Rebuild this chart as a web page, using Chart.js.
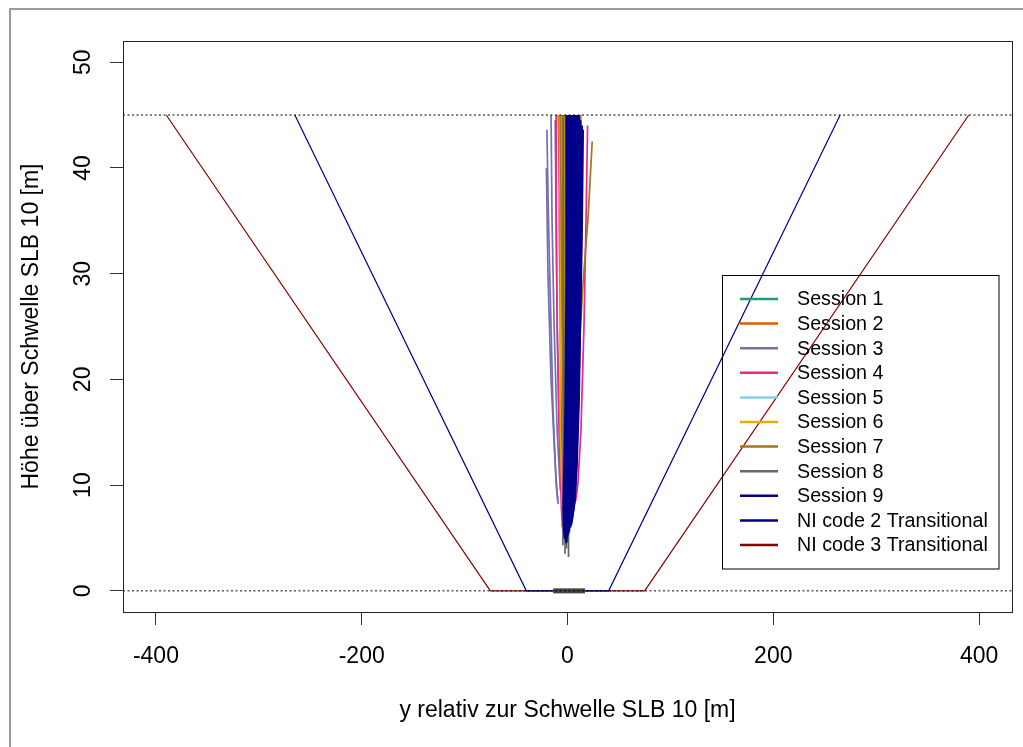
<!DOCTYPE html>
<html><head><meta charset="utf-8">
<script src="https://cdn.jsdelivr.net/npm/chart.js@4/dist/chart.umd.min.js"></script>
<style>html,body{margin:0;padding:0;background:#fff}canvas{display:block}</style>
</head><body>
<canvas id="c" width="1023" height="747"></canvas>
<script>
// ---------- DATA ----------
const xTicks = [-400, -200, 0, 200, 400];
const yTicks = [0, 10, 20, 30, 40, 50];
const xLimits = [-432, 432];
const yLimits = [-2, 52];
const refHeights = [0, 45];
const runway = [[-14, 0], [17, 0]];
const niCode2 = [[-265, 45], [-40, 0], [40, 0], [265, 45]];
const niCode3 = [[-390, 45], [-75, 0], [75, 0], [390, 45]];
const xTitle = 'y relativ zur Schwelle SLB 10 [m]';
const yTitle = 'Höhe über Schwelle SLB 10 [m]';
const sessionNames = ['Session 1','Session 2','Session 3','Session 4','Session 5','Session 6','Session 7','Session 8','Session 9'];
const niNames = ['NI code 2 Transitional', 'NI code 3 Transitional'];
const sessionColors = ['#1B9E77','#D95F02','#7570B3','#E7298A','#87CEEB','#E6AB02','#A6761D','#666666','#00008B'];
const niColors = ['#00008B', '#8B0000'];

const session1 = [
  [[-5,45],[-4,35],[-3,25],[-2,15],[-1,9]],
  [[-2,45],[-1,35],[0,25],[0,15],[0,8]]
];
const session2 = [
  [[-9,45],[-7,35],[-5,25],[-3,15],[-2,8]],
  [[-4,45],[-3,35],[-2,25],[-1,15],[-1,7]]
];
const session3 = [
  [[-20,43.6],[-18.5,35],[-16,25],[-14,17],[-11,10],[-9,8.2]],
  [[-20.5,40],[-19,30],[-16,20],[-12,12],[-9.5,8.5]],
  [[-16,45],[-15,35],[-13,25],[-10,15],[-7,9.5]],
  [[-12,44.5],[-11,35],[-10,25],[-8,15],[-6,10]],
  [[11,45],[12,35],[11,25],[8,15],[4,8]]
];
const session4 = [
  [[-11,45],[-11,35],[-10,25],[-8,15],[-6,8],[-5,6]],
  [[-8,44],[-8,35],[-7,25],[-6,15],[-4,7]],
  [[19.5,44],[18,35],[16,25],[13,15],[10,10],[8,8.5]],
  [[14,43],[14,35],[12,25],[9,15],[5,8]]
];
const session5 = [
  [[8,45],[7,40],[5,30],[3,20],[1,10],[0,6]],
  [[2,45],[2,35],[1,25],[0,15],[-1,7]]
];
const session6 = [
  [[-8,45],[-7,35],[-7,25],[-7,15],[-5,8]],
  [[-3,45],[-3,35],[-2,25],[-2,15],[-1,7]],
  [[3,45],[3,35],[2,25],[1,15],[0,6]]
];
const session7 = [
  [[24,42.5],[20,35.3],[15,29],[11,22],[6,12],[3,6]],
  [[-5,45],[-5,35],[-4,25],[-4,15],[-3,7]],
  [[-2,45],[-2,35],[-2,25],[-2,15],[-1,6]],
  [[-7,45],[-6,35],[-5,25],[-4,15],[-2,6]],
  [[13,45],[12,35],[10,25],[6,15],[2,6]]
];
const session8 = [
  [[6,45],[6,35],[4,25],[2,15],[0,7],[-1,4]],
  [[-4,45],[-4,35],[-4,25],[-4,15],[-4,8],[-4.5,4.3]],
  [[-1,45],[-1,35],[-1,25],[-1,15],[-2,7],[-2.5,3.5]],
  [[4,45],[4,35],[3,25],[2,15],[1,7],[1,3.2]],
  [[1,44],[1,35],[1,25],[0,15],[-1,6],[-1,4.5]]
];
const session9 = [
  [[-1,45],[-1,30],[-2,18],[-3,12],[-4,8.5],[-3.5,5.5]],
  [[0.5,45],[0.3,30],[-1,18],[-2,12],[-3,8.5],[-3,5]],
  [[2,45],[1.7,30],[0.2,18],[-1,12],[-2,8.5],[-2,4.8]],
  [[3.5,45],[3,30],[1.4,18],[0,12],[-1,8.5],[-1.5,4.5]],
  [[5,45],[4.5,30],[2.6,18],[1.2,12],[0,8.5],[-1,4.6]],
  [[6.5,45],[6,30],[4,18],[2.4,12],[1,8.5],[-0.5,5]],
  [[8,45],[7.4,30],[5.2,18],[3.6,12],[2,8.5],[0,5.2]],
  [[9.5,45],[8.8,30],[6.4,18],[4.8,12],[3.2,8.5],[0.8,5.4]],
  [[11,45],[10.3,30],[7.8,18],[6,12],[4.4,8.5],[1.5,5.6]],
  [[12.5,44.5],[11.8,30],[9.2,18],[7.4,12],[5.6,8.5],[2.5,6]],
  [[14,44],[13.2,30],[10.5,18],[8.6,12],[6.8,8.5],[3.5,6.2]],
  [[15,43.6],[14,35],[13,30],[11,18],[9,12],[7,8.5],[4,6.5]]
];
const sessions = [session1, session2, session3, session4, session5, session6, session7, session8, session9];

// ---------- BUILD ----------
const FONT = '"Liberation Sans", Arial, sans-serif';
const pts = arr => arr.map(([x, y]) => ({x, y}));
const datasets = [];
datasets.push({label: niNames[0], data: pts(niCode2), borderColor: niColors[0], borderWidth: 1.2, order: 300});
datasets.push({label: niNames[1], data: pts(niCode3), borderColor: niColors[1], borderWidth: 1.2, order: 300});
sessions.forEach((trajs, i) => {
  trajs.forEach(t => datasets.push({
    label: sessionNames[i], data: pts(t), borderColor: sessionColors[i],
    borderWidth: i === 8 ? 2.2 : 1.7, order: 200 - i
  }));
});
datasets.push({label: 'runway', data: pts(runway), borderColor: '#444', borderWidth: 5, order: 20});
refHeights.forEach(h => datasets.push({
  label: 'ref', data: [{x: xLimits[0], y: h}, {x: xLimits[1], y: h}],
  borderColor: '#000', borderWidth: 1, borderDash: [2, 2.5], order: 10
}));
datasets.forEach(d => { d.showLine = true; d.pointRadius = 0; d.fill = false; d.tension = 0; });

const decor = {
  id: 'decor',
  beforeDraw(chart) {
    const ctx = chart.ctx;
    ctx.save();
    ctx.fillStyle = '#fff';
    ctx.fillRect(0, 0, chart.width, chart.height);
    ctx.strokeStyle = '#9a9a9a';
    ctx.lineWidth = 2;
    ctx.strokeRect(10, 9, 1100, 900);
    ctx.restore();
  },
  afterDraw(chart) {
    const ctx = chart.ctx, a = chart.chartArea, ys = chart.scales.y;
    ctx.save();
    ctx.strokeStyle = '#222';
    ctx.lineWidth = 1;
    ctx.strokeRect(Math.round(a.left) + 0.5, Math.round(a.top) + 0.5, Math.round(a.right - a.left), Math.round(a.bottom - a.top));
    ctx.fillStyle = '#000';
    ctx.font = '23px ' + FONT;
    ctx.textAlign = 'center';
    ctx.textBaseline = 'alphabetic';
    yTicks.forEach(v => {
      const py = ys.getPixelForValue(v);
      ctx.save();
      ctx.translate(90, py);
      ctx.rotate(-Math.PI / 2);
      ctx.fillText(String(v), 0, 0);
      ctx.restore();
    });
    const names = sessionNames.concat(niNames);
    const cols = sessionColors.concat(niColors);
    ctx.strokeStyle = '#000';
    ctx.lineWidth = 1;
    ctx.strokeRect(722.5, 275.5, 276.5, 293.5);
    ctx.font = '19.7px ' + FONT;
    ctx.textAlign = 'left';
    ctx.textBaseline = 'middle';
    names.forEach((n, i) => {
      const yy = 299 + i * 24.6;
      ctx.strokeStyle = cols[i];
      ctx.lineWidth = 2.5;
      ctx.beginPath();
      ctx.moveTo(740, yy);
      ctx.lineTo(778, yy);
      ctx.stroke();
      ctx.fillStyle = '#000';
      ctx.fillText(n, 797, yy + 1);
    });
    ctx.restore();
  }
};

new Chart(document.getElementById('c'), {
  type: 'scatter',
  data: {datasets},
  options: {
    responsive: false,
    devicePixelRatio: 1,
    animation: false,
    events: [],
    layout: {padding: {top: 41, right: 11, bottom: 0, left: 0}},
    plugins: {legend: {display: false}, tooltip: {enabled: false}},
    scales: {
      x: {
        type: 'linear', min: xLimits[0], max: xLimits[1],
        afterBuildTicks: s => { s.ticks = xTicks.map(v => ({value: v})); },
        afterFit: s => { s.height = 135; },
        grid: {drawOnChartArea: false, drawTicks: true, tickLength: 13, color: '#333', lineWidth: 1},
        border: {display: true, color: '#222'},
        ticks: {color: '#000', font: {family: FONT, size: 23}, padding: 18, maxRotation: 0, minRotation: 0},
        title: {display: true, text: xTitle, color: '#000', font: {family: FONT, size: 23}, padding: {top: 0, bottom: 23}}
      },
      y: {
        type: 'linear', min: yLimits[0], max: yLimits[1],
        afterBuildTicks: s => { s.ticks = yTicks.map(v => ({value: v})); },
        afterFit: s => { s.width = 123; },
        grid: {drawOnChartArea: false, drawTicks: true, tickLength: 13, color: '#333', lineWidth: 1},
        border: {display: true, color: '#222'},
        ticks: {display: false},
        title: {display: true, text: yTitle, color: '#000', font: {family: FONT, size: 23}, padding: {top: 18, bottom: 0}}
      }
    }
  },
  plugins: [decor]
});
</script>
</body></html>
